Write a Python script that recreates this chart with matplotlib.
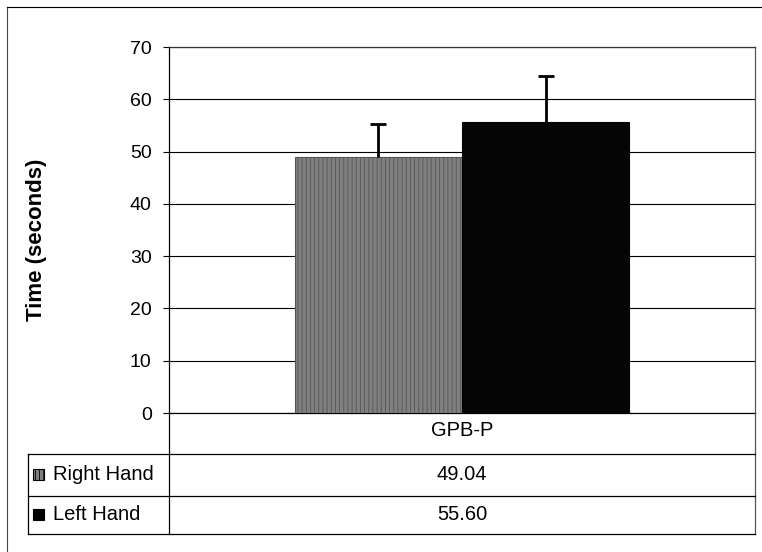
"""Bar chart of task time by hand with a data table underneath."""

import matplotlib

matplotlib.use("Agg")
import matplotlib.pyplot as plt
from matplotlib.lines import Line2D
from matplotlib.patches import Rectangle

categories = ["GPB-P"]
series_names = ["Right Hand", "Left Hand"]
series_means = [49.04, 55.60]
series_errors = [6.2, 8.8]
y_ticks = [0, 10, 20, 30, 40, 50, 60, 70]

W, H = 762, 552
plt.rcParams["font.family"] = ["Liberation Sans", "DejaVu Sans"]
plt.rcParams["hatch.linewidth"] = 0.6


def fx(x):
    return x / W


def fy(y):
    return 1 - y / H


fig = plt.figure(figsize=(W / 100, H / 100), dpi=100)
ax = fig.add_axes([fx(169), fy(413), fx(755) - fx(169), fy(47) - fy(413)])

styles = [
    dict(facecolor="#808080", hatch="||||", edgecolor="#555555"),
    dict(facecolor="#050505", hatch=None, edgecolor="#050505"),
]
bar_width = 0.285
offsets = [-bar_width / 2, bar_width / 2]
for name, mean, err, off, st in zip(series_names, series_means, series_errors, offsets, styles):
    ax.bar(0 + off, mean, width=bar_width, facecolor=st["facecolor"],
           hatch=st["hatch"], edgecolor=st["edgecolor"], linewidth=0.8, zorder=3)
    eb = ax.errorbar(0 + off, mean, yerr=[[0], [err]], fmt="none", ecolor="black",
                     elinewidth=2, capsize=5.5, capthick=2, zorder=4)
    # only the upper cap is shown
    eb[1][0].set_visible(False)

ax.set_xlim(-0.5, 0.5)
ax.set_ylim(0, 70)
ax.set_yticks(y_ticks)
ax.set_xticks([])
ax.tick_params(axis="y", length=4.5, width=0.8, pad=8, labelsize=14)
ax.yaxis.grid(True, color="black", linewidth=0.8)
ax.set_axisbelow(True)
for side in ["left", "right", "top", "bottom"]:
    ax.spines[side].set_linewidth(0.9)
    ax.spines[side].set_color("black")
ax.spines["right"].set_color("#555555")
ax.spines["top"].set_color("#333333")

fig.text(fx(37), fy(240), "Time (seconds)", rotation=90, fontsize=16,
         fontweight="bold", ha="center", va="center")


# data table below the axis
def hline(y, x0, x1, **kw):
    fig.add_artist(Line2D([fx(x0), fx(x1)], [fy(y), fy(y)], color="black",
                          linewidth=kw.get("lw", 0.9), transform=fig.transFigure))


def vline(x, y0, y1, **kw):
    fig.add_artist(Line2D([fx(x), fx(x)], [fy(y0), fy(y1)], color=kw.get("color", "black"),
                          linewidth=kw.get("lw", 0.9), transform=fig.transFigure))


vline(169, 413, 534)
vline(755, 413, 534, color="#555555")
vline(28, 454, 534)
hline(454, 28, 755)
hline(496, 28, 755)
hline(534, 28, 755)

# outer chart border
vline(7, 7, 552, color="#444444", lw=0.8)
hline(7, 7, 762, lw=0.8)

center_x = 462
fig.text(fx(center_x), fy(431), categories[0], fontsize=14.5, ha="center", va="center")
row_y = [475, 515]
for name, mean, st, y in zip(series_names, series_means, styles, row_y):
    fig.add_artist(Rectangle((fx(33), fy(y + 5)), fx(11), fy(0) - fy(11),
                             facecolor=st["facecolor"], hatch=st["hatch"],
                             edgecolor="black", linewidth=0.8,
                             transform=fig.transFigure))
    fig.text(fx(53), fy(y), name, fontsize=14.5, ha="left", va="center")
    fig.text(fx(center_x), fy(y), f"{mean:.2f}", fontsize=14.5, ha="center", va="center")

fig.savefig("out.png", dpi=100)
